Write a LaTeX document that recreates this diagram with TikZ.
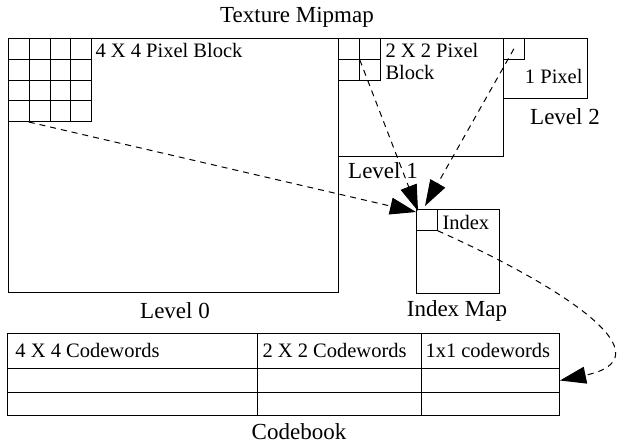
\documentclass[tikz,border=0pt]{standalone}
\usepackage{fontspec}
\setmainfont{Liberation Serif}
\usetikzlibrary{positioning,arrows.meta}

\tikzset{
  box/.style={draw, inner sep=0pt, anchor=north west},
  cell/.style={draw, inner sep=0pt, minimum size=20.75pt, anchor=north west},
  big/.style={inner sep=0pt, font=\fontsize{23}{26}\selectfont},
  small/.style={inner sep=0pt, font=\fontsize{20.5}{22}\selectfont},
  link/.style={dashed, dash pattern=on 6pt off 5pt, -{Triangle[length=26pt, width=17pt]}}
}

\begin{document}
\begin{tikzpicture}[x=1pt, y=-1pt, line width=1pt]
    \useasboundingbox (0,0) rectangle (624,445);

    \node[big] (title) at (297,17) {Texture Mipmap};

    % level 0 with its 4x4 block
    \node[box, minimum width=330pt, minimum height=254pt] (lvl0) at (8,38) {};
    \foreach \i in {0,...,3}
        \foreach \j in {0,...,3}
            \node[cell] (a\i\j) at (8+20.75*\i, 38+20.75*\j) {};
    \node[small, anchor=north west] (blk0) at (95,43) {4 X 4 Pixel Block};
    \node[big] (name0) at (175,311) {Level 0};

    % level 1 with its 2x2 block
    \node[box, minimum width=165pt, minimum height=118pt] (lvl1) at (338,38) {};
    \foreach \i in {0,1}
        \foreach \j in {0,1}
            \node[cell] (b\i\j) at (338+20.75*\i, 38+20.75*\j) {};
    \node[small, anchor=north west, align=left] (blk1) at (385,43) {2 X 2 Pixel\\Block};
    \node[big] (name1) at (383,171) {Level 1};

    % level 2 with one pixel
    \node[box, minimum width=84pt, minimum height=60pt] (lvl2) at (503,38) {};
    \node[cell] (px) at (503,38) {};
    \node[small, anchor=east] (blk2) at (583,76) {1 Pixel};
    \node[big] (name2) at (565,117) {Level 2};

    % index map
    \node[box, minimum width=83pt, minimum height=84pt] (imap) at (416,209) {};
    \node[cell] (idx) at (416,209) {};
    \node[small, anchor=west] (idxt) at (442,222) {Index};
    \node[big] (mapname) at (457,311) {Index Map};

    % codebook
    \node[box, minimum width=250pt, minimum height=35pt] (c11) at (7,333) {};
    \node[box, minimum width=250pt, minimum height=24pt] (c12) at (7,368) {};
    \node[box, minimum width=250pt, minimum height=23pt] (c13) at (7,392) {};
    \node[box, minimum width=164pt, minimum height=35pt] (c21) at (257,333) {};
    \node[box, minimum width=164pt, minimum height=24pt] (c22) at (257,368) {};
    \node[box, minimum width=164pt, minimum height=23pt] (c23) at (257,392) {};
    \node[box, minimum width=138pt, minimum height=35pt] (c31) at (421,333) {};
    \node[box, minimum width=138pt, minimum height=24pt] (c32) at (421,368) {};
    \node[box, minimum width=138pt, minimum height=23pt] (c33) at (421,392) {};
    \node[small, anchor=west] (cw4) at (15,350) {4 X 4 Codewords};
    \node[small, anchor=west] (cw2) at (262,350) {2 X 2 Codewords};
    \node[small, anchor=west] (cw1) at (425,350) {1x1 codewords};
    \node[big] (cbname) at (299,432) {Codebook};

    % links
    \coordinate (hit0) at (416,212);
    \coordinate (hit1) at (418,211);
    \coordinate (hit2) at (425,206);
    \draw[link] (a13.south west) -- (hit0);
    \draw[link] (b00.south east) -- (hit1);
    \draw[link] (px.center) -- (hit2);
    \draw[link] (idx.south east) .. controls (570,290) and (668,358) .. (c32.east);
\end{tikzpicture}
\end{document}
